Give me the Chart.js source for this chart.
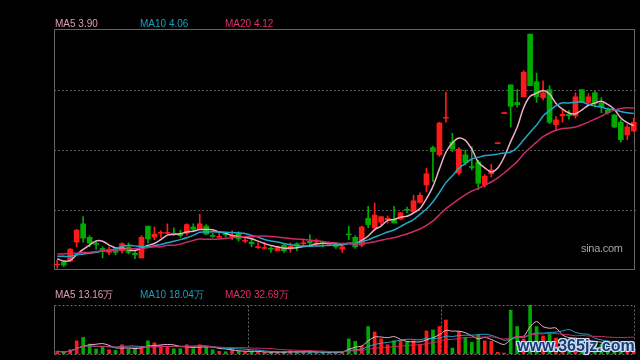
<!DOCTYPE html>
<html><head><meta charset="utf-8">
<script src="https://cdn.jsdelivr.net/npm/chart.js@4/dist/chart.umd.min.js"></script>
<style>
html,body{margin:0;padding:0;background:#000;width:640px;height:360px;overflow:hidden}
#pc{position:absolute;left:0;top:0}
#vc{position:absolute;left:0;top:280px}
.lg{position:absolute;font:10px "Liberation Sans",Arial,sans-serif;white-space:nowrap;line-height:10px}
.wm{position:absolute;left:581px;top:243px;font:11px "Liberation Sans",Arial,sans-serif;color:#a4a4a4;letter-spacing:-0.3px;line-height:11px}
.wm2{position:absolute;left:517px;top:338px;font:bold 16px "Liberation Sans",Arial,sans-serif;color:#1b3a78;line-height:16px;
 text-shadow:1px 0 #cfe0f5,-1px 0 #cfe0f5,0 1px #cfe0f5,0 -1px #cfe0f5,1px 1px #cfe0f5,-1px -1px #cfe0f5,1px -1px #cfe0f5,-1px 1px #cfe0f5,0 0 3px #9fc0e8}
</style></head><body>
<canvas id="pc" width="640" height="280"></canvas>
<canvas id="vc" width="640" height="80"></canvas>
<div id="legends"></div>
<div class="wm">sina.com</div>
<div class="wm2">www.365jz.com</div>
<script>
// ---- data ----
const days = Array.from({length: 90}, (_, i) => String(i + 1));
const opens = [2.14,2.18,2.19,2.43,2.66,2.49,2.41,2.35,2.30,2.33,
 2.32,2.37,2.29,2.23,2.63,2.49,2.54,2.54,2.54,2.54,
 2.54,2.62,2.59,2.63,2.51,2.49,2.53,2.50,2.54,2.44,
 2.43,2.36,2.35,2.35,2.32,2.39,2.34,2.41,2.41,2.44,
 2.43,2.42,2.40,2.42,2.34,2.53,2.49,2.39,2.73,2.61,
 2.68,2.71,2.72,2.72,2.84,2.81,2.93,3.15,3.62,3.53,
 3.99,3.69,3.30,3.53,3.38,3.44,3.15,3.29,3.67,4.05,
 4.41,4.19,4.26,5.05,4.45,4.25,4.35,3.91,4.02,4.04,
 4.02,4.35,4.19,4.31,4.18,4.09,4.03,3.94,3.78,3.83];
const highs = [2.20,2.19,2.35,2.59,2.75,2.51,2.43,2.37,2.37,2.35,
 2.42,2.42,2.32,2.51,2.63,2.62,2.57,2.66,2.61,2.58,
 2.66,2.66,2.78,2.65,2.54,2.54,2.54,2.57,2.56,2.49,
 2.48,2.42,2.42,2.37,2.38,2.41,2.42,2.42,2.47,2.52,
 2.47,2.43,2.43,2.42,2.39,2.63,2.51,2.63,2.88,2.92,
 2.75,2.76,2.88,2.80,2.87,3.02,3.05,3.36,3.64,3.94,
 4.32,3.80,3.62,3.59,3.63,3.46,3.28,3.41,3.68,4.06,
 4.41,4.35,4.59,5.05,4.56,4.46,4.40,4.01,4.09,4.09,
 4.31,4.35,4.30,4.33,4.25,4.12,4.04,3.97,3.91,3.99];
const lows = [2.10,2.12,2.18,2.37,2.43,2.37,2.34,2.23,2.27,2.27,
 2.29,2.28,2.22,2.23,2.42,2.46,2.49,2.53,2.52,2.49,
 2.52,2.57,2.59,2.52,2.49,2.48,2.49,2.46,2.44,2.42,
 2.37,2.35,2.34,2.30,2.32,2.30,2.30,2.32,2.38,2.39,
 2.38,2.37,2.38,2.35,2.30,2.46,2.35,2.37,2.61,2.58,
 2.65,2.67,2.67,2.71,2.80,2.80,2.92,3.06,3.19,3.51,
 3.94,3.57,3.28,3.40,3.34,3.09,3.12,3.25,3.67,4.05,
 3.88,4.13,4.26,4.40,4.19,4.22,3.92,3.84,3.94,3.98,
 3.99,4.19,4.16,4.13,4.06,4.04,3.87,3.69,3.72,3.82];
const closes = [2.15,2.14,2.34,2.58,2.48,2.42,2.40,2.32,2.34,2.30,
 2.41,2.30,2.27,2.49,2.47,2.53,2.55,2.55,2.53,2.51,
 2.65,2.59,2.66,2.53,2.50,2.50,2.52,2.51,2.47,2.45,
 2.41,2.37,2.36,2.34,2.37,2.32,2.38,2.38,2.42,2.42,
 2.44,2.41,2.41,2.37,2.37,2.52,2.37,2.62,2.65,2.77,
 2.75,2.73,2.67,2.80,2.83,2.95,3.02,3.29,3.57,3.93,
 4.00,3.60,3.60,3.43,3.37,3.17,3.26,3.34,3.68,4.06,
 4.14,4.16,4.57,4.40,4.26,4.31,3.94,3.97,4.04,4.02,
 4.26,4.19,4.26,4.18,4.13,4.06,3.88,3.72,3.88,3.94];
const volumes = [5.2,3.3,8.3,25.5,32.1,19.2,9.6,14.8,8.3,7.1,
 17.9,9.6,9.6,14.8,25.5,21.7,15.9,14.8,10.2,10.2,
 17.9,10.2,17.9,12.9,8.3,5.2,4.4,8.3,5.2,3.3,
 5.2,3.3,3.3,3.3,3.3,3.8,6.3,3.8,3.8,3.8,
 3.3,3.3,3.3,3.8,5.2,29.4,24.4,14.8,53.2,42.8,
 29.4,17.9,25.5,26.3,22.5,25.5,17.9,44.7,46.7,53.2,
 65.9,11.5,43.6,32.1,22.5,37.1,25.5,24.4,3.3,1.9,
 85.1,53.2,28.8,94.7,53.2,34.6,38.4,30.9,27.0,27.5,
 30.7,23.0,23.0,18.7,19.2,13.4,13.4,17.3,11.5,10.2];
// moving-average values at the left edge (before a full window exists)
const ma5Early = [2.22,2.19,2.20,2.27];
const ma10Early = [2.25,2.25,2.25,2.27,2.28,2.29,2.30,2.32,2.32];
const ma20Early = [2.28,2.28,2.29,2.29,2.30,2.30,2.31,2.32,2.32,2.33,2.34,2.34,2.35,2.35,2.36,2.37,2.37,2.39,2.39];
const priceLegend = ['MA5 3.90','MA10 4.06','MA20 4.12'];
const volumeLegend = ['MA5 13.16万','MA10 18.04万','MA20 32.69万'];
const priceTicks = [2.078, 2.834, 3.59, 4.346, 5.102];
const volumeMax = 95;
const monthBreaks = [29.5, 59.25];

// ---- styles ----
const RED = '#ff1a1a', GREEN = '#00aa00';
const C5 = '#eeb0c4', C10 = '#22a6c8', C20 = '#cc2a68';
const T5 = '#e29cb2', T10 = '#1e9ebe', T20 = '#e0306a';

function movingAvg(src, n, early) {
  return src.map((_, i) => {
    if (i < n - 1) {
      if (early) return early[i];
      const s = src.slice(0, i + 1); return s.reduce((a, b) => a + b, 0) / s.length;
    }
    let s = 0; for (let k = i - n + 1; k <= i; k++) s += src[k];
    return s / n;
  });
}
const up = closes.map((c, i) => c >= opens[i]);
const colors = up.map(u => u ? RED : GREEN);
const bodies = opens.map((o, i) => [o, closes[i]]);
const wicks = lows.map((l, i) => [l, highs[i]]);

// legends
const lgHost = document.getElementById('legends');
function addLegend(texts, top) {
  const xs = [55, 140, 225], cs = [T5, T10, T20];
  texts.forEach((t, i) => {
    const d = document.createElement('div');
    d.className = 'lg'; d.textContent = t;
    d.style.left = xs[i] + 'px'; d.style.top = top + 'px'; d.style.color = cs[i];
    lgHost.appendChild(d);
  });
}
addLegend(priceLegend, 19);
addLegend(volumeLegend, 290);

const priceFrame = {
  id: 'priceFrame',
  beforeDatasetsDraw(chart) {
    const {ctx, chartArea: a} = chart;
    ctx.save(); ctx.strokeStyle = '#646464'; ctx.lineWidth = 1;
    ctx.strokeRect(Math.round(a.left) + 0.5, Math.round(a.top) - 0.5, 580, Math.round(a.bottom - a.top));
    ctx.restore();
  }
};
const volFrame = {
  id: 'volFrame',
  beforeDatasetsDraw(chart) {
    const {ctx, chartArea: a, scales} = chart;
    const L = Math.round(a.left) + 0.5, R = L + 580, T = Math.round(a.top) + 0.5, B = Math.round(a.bottom) + 0.5;
    ctx.save(); ctx.lineWidth = 1;
    ctx.strokeStyle = '#6a6a6a'; ctx.setLineDash([2, 2]);
    ctx.beginPath();
    ctx.moveTo(L, T); ctx.lineTo(R, T); ctx.lineTo(R, B);
    ctx.moveTo(L, B); ctx.lineTo(R, B);
    const xs = scales.x;
    monthBreaks.forEach(v => {
      const f = Math.floor(v);
      const x = xs.getPixelForValue(f) + (v - f) * (xs.getPixelForValue(f + 1) - xs.getPixelForValue(f));
      const xx = Math.round(x) + 0.5;
      ctx.moveTo(xx, T); ctx.lineTo(xx, B);
    });
    ctx.stroke();
    ctx.setLineDash([]); ctx.strokeStyle = '#646464';
    ctx.beginPath(); ctx.moveTo(L, T); ctx.lineTo(L, B); ctx.stroke();
    ctx.restore();
  }
};

const lineDs = (data, color, w, order) => ({type: 'line', data, borderColor: color, borderWidth: w,
  pointRadius: 0, tension: 0.3, order, fill: false});

new Chart(document.getElementById('pc'), {
  type: 'bar',
  data: {labels: days, datasets: [
    lineDs(movingAvg(closes, 20, ma20Early), C20, 1.5, 0),
    lineDs(movingAvg(closes, 10, ma10Early), C10, 1.5, 0),
    lineDs(movingAvg(closes, 5, ma5Early), C5, 1.5, 0),
    {type: 'bar', data: bodies, backgroundColor: colors, barThickness: 5, minBarLength: 1, grouped: false, order: 2},
    {type: 'bar', data: wicks, backgroundColor: colors, barThickness: 1, grouped: false, order: 3}
  ]},
  options: {
    responsive: false, animation: false, events: [],
    layout: {padding: {left: 54, right: 3, top: 30, bottom: 10}},
    plugins: {legend: {display: false}, tooltip: {enabled: false}},
    scales: {
      x: {display: false, offset: true},
      y: {min: priceTicks[0], max: priceTicks[priceTicks.length - 1],
        afterFit(s) { s.width = 0; },
        afterBuildTicks(s) { s.ticks = priceTicks.map(v => ({value: v})); },
        ticks: {display: false},
        grid: {color: (c) => (c.index === 0 || c.index === priceTicks.length - 1) ? 'rgba(0,0,0,0)' : '#5a5a5a',
               lineWidth: 1, drawTicks: false},
        border: {display: false, dash: [2, 2]}}
    }
  },
  plugins: [priceFrame]
});

new Chart(document.getElementById('vc'), {
  type: 'bar',
  data: {labels: days, datasets: [
    lineDs(movingAvg(volumes, 20), C20, 1, 0),
    lineDs(movingAvg(volumes, 10), C10, 1, 0),
    lineDs(movingAvg(volumes, 5), C5, 1, 0),
    {type: 'bar', data: volumes, backgroundColor: colors, barThickness: 3, order: 2}
  ]},
  options: {
    responsive: false, animation: false, events: [],
    layout: {padding: {left: 54, right: 3, top: 25, bottom: 6}},
    plugins: {legend: {display: false}, tooltip: {enabled: false}},
    scales: {
      x: {display: false, offset: true},
      y: {display: false, min: 0, max: volumeMax}
    }
  },
  plugins: [volFrame]
});
</script>
</body></html>
